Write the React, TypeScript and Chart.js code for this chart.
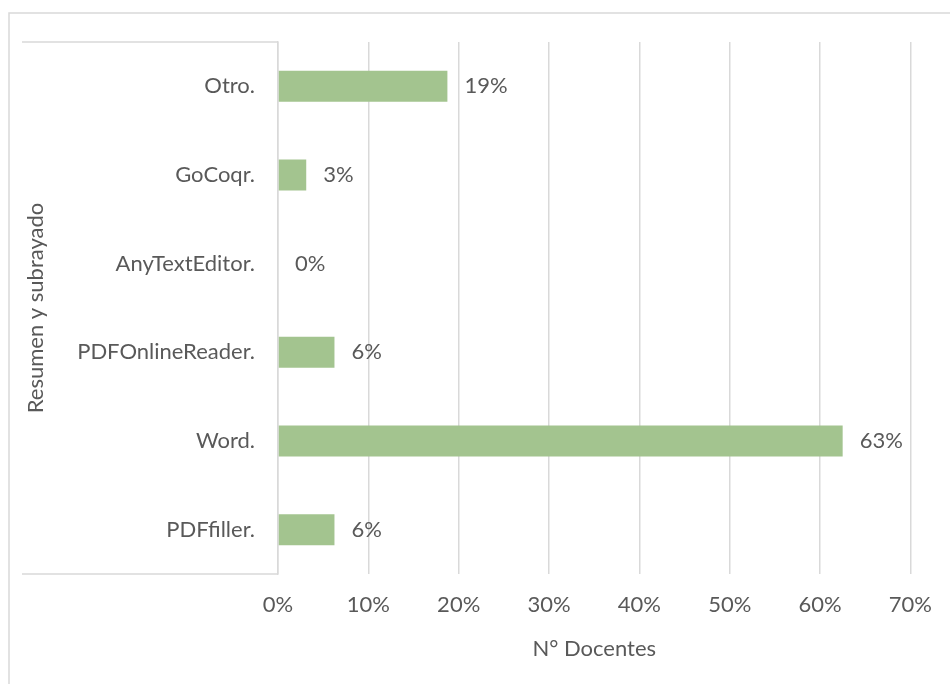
import React, { useEffect, useRef } from 'react';
import { Chart, registerables } from 'chart.js';

Chart.register(...registerables);

const categories = ['Otro.', 'GoCoqr.', 'AnyTextEditor.', 'PDFOnlineReader.', 'Word.', 'PDFfiller.'];
const values = [18.75, 3.125, 0, 6.25, 62.5, 6.25];
const xMin = 0;
const xMax = 70;
const xStep = 10;
const yAxisTitle = 'Resumen y subrayado';
const xAxisTitle = 'N° Docentes';

const FONT = 'Lato, "Open Sans", sans-serif';
const TEXT = '#595959';
const GRID = '#d9d9d9';
const BAR = '#a3c48f';
const FS = 22;

const framePlugin = {
  id: 'frame',
  beforeDraw(chart: any) {
    const { ctx, chartArea } = chart;
    ctx.save();
    ctx.strokeStyle = GRID;
    ctx.lineWidth = 1.5;
    ctx.beginPath();
    ctx.moveTo(9, chart.height);
    ctx.lineTo(9, 13);
    ctx.lineTo(chart.width, 13);
    ctx.stroke();
    ctx.beginPath();
    ctx.moveTo(22, chartArea.top);
    ctx.lineTo(chartArea.left, chartArea.top);
    ctx.moveTo(22, chartArea.bottom);
    ctx.lineTo(chartArea.left, chartArea.bottom);
    ctx.stroke();
    ctx.restore();
  },
};

const labelPlugin = {
  id: 'barLabels',
  afterDatasetsDraw(chart: any) {
    const { ctx } = chart;
    const meta = chart.getDatasetMeta(0);
    ctx.save();
    ctx.fillStyle = TEXT;
    ctx.font = `${FS}px ${FONT}`;
    ctx.textAlign = 'left';
    ctx.textBaseline = 'middle';
    meta.data.forEach((bar: any, i: number) => {
      ctx.fillText(Math.round(values[i]) + '%', bar.x + 17, bar.y);
    });
    ctx.restore();
  },
};

export default function App() {
  const ref = useRef<HTMLCanvasElement | null>(null);
  useEffect(() => {
    document.body.style.margin = '0';
    const chart = new Chart(ref.current as HTMLCanvasElement, {
      type: 'bar',
      data: {
        labels: categories,
        datasets: [
          {
            data: values,
            backgroundColor: BAR,
            borderWidth: 0,
            barPercentage: 0.35,
            categoryPercentage: 1,
          },
        ],
      },
      options: {
        indexAxis: 'y',
        animation: false,
        responsive: true,
        maintainAspectRatio: false,
        layout: { padding: { top: 42, right: 38, left: 0, bottom: 0 } },
        plugins: { legend: { display: false }, tooltip: { enabled: false } },
        scales: {
          x: {
            min: xMin,
            max: xMax,
            ticks: {
              stepSize: xStep,
              color: TEXT,
              font: { family: FONT, size: FS },
              padding: 18,
              callback: (v: any) => v + '%',
            },
            grid: { color: GRID, lineWidth: 1.5, drawTicks: false },
            border: { display: false },
            title: {
              display: true,
              text: xAxisTitle,
              color: TEXT,
              font: { family: FONT, size: FS },
              padding: { top: 0, bottom: 22 },
            },
            afterFit: (s: any) => {
              s.height = 110;
            },
          },
          y: {
            ticks: {
              color: TEXT,
              font: { family: FONT, size: FS },
              padding: 23,
            },
            grid: { display: false, drawTicks: false },
            border: { display: true, color: GRID, width: 1.5 },
            title: {
              display: true,
              text: yAxisTitle,
              color: TEXT,
              font: { family: FONT, size: FS },
              padding: { top: 23, bottom: 0 },
            },
            afterFit: (s: any) => {
              s.width = 278;
            },
          },
        },
      },
      plugins: [framePlugin, labelPlugin],
    } as any);
    return () => chart.destroy();
  }, []);
  return (
    <div style={{ position: 'absolute', left: 0, top: 0, width: 950, height: 684 }}>
      <canvas ref={ref} />
    </div>
  );
}
